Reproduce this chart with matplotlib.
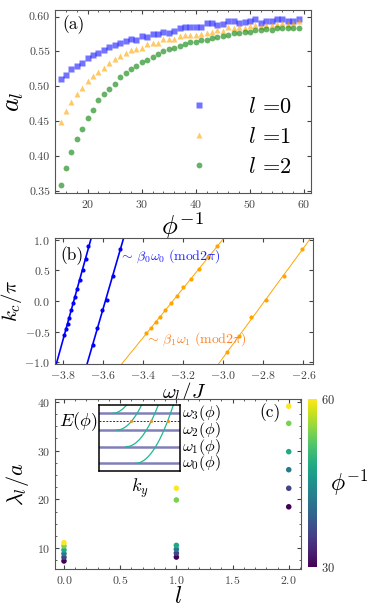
import numpy as np
import matplotlib
matplotlib.use("Agg")
import matplotlib.pyplot as plt
from matplotlib.ticker import MultipleLocator

plt.rcParams['font.family'] = 'serif'
plt.rcParams['font.serif'] = ['cmr10', 'DejaVu Serif']
plt.rcParams['mathtext.fontset'] = 'cm'
plt.rcParams['axes.formatter.use_mathtext'] = True
plt.rcParams['axes.unicode_minus'] = True

# ---- panel (a): a_l vs phi^-1
phi_inv = list(range(15, 60))
a_l0 = [0.510, 0.516, 0.524, 0.529, 0.534, 0.541, 0.545, 0.548, 0.552, 0.556,
        0.559, 0.562, 0.565, 0.568, 0.566, 0.572, 0.570, 0.575, 0.575, 0.578,
        0.577, 0.579, 0.583, 0.585, 0.585, 0.585, 0.585, 0.590, 0.590, 0.588,
        0.589, 0.593, 0.594, 0.591, 0.592, 0.594, 0.596, 0.591, 0.593, 0.594,
        0.597, 0.597, 0.594, 0.594, 0.597]
a_l1 = [0.448, 0.465, 0.478, 0.489, 0.498, 0.508, 0.514, 0.520, 0.526, 0.534,
        0.539, 0.544, 0.547, 0.552, 0.554, 0.555, 0.561, 0.562, 0.562, 0.568,
        0.568, 0.568, 0.572, 0.573, 0.573, 0.574, 0.575, 0.577, 0.578, 0.581,
        0.579, 0.585, 0.583, 0.585, 0.584, 0.586, 0.588, 0.586, 0.588, 0.588,
        0.589, 0.590, 0.589, 0.590, 0.593]
a_l2 = [0.359, 0.382, 0.405, 0.424, 0.439, 0.454, 0.466, 0.480, 0.489, 0.496,
        0.503, 0.513, 0.519, 0.525, 0.529, 0.535, 0.538, 0.542, 0.546, 0.550,
        0.554, 0.555, 0.558, 0.561, 0.563, 0.564, 0.566, 0.567, 0.569, 0.571,
        0.572, 0.574, 0.576, 0.576, 0.578, 0.578, 0.580, 0.581, 0.582, 0.581,
        0.583, 0.584, 0.584, 0.584, 0.584]

# ---- panel (b): k_c/pi vs omega_l/J (two branches each for l=0 and l=1)
w0a = [-3.671, -3.684, -3.699, -3.714, -3.726, -3.738, -3.749, -3.759, -3.768, -3.774, -3.783, -3.791]
k0a = [0.90, 0.69, 0.51, 0.34, 0.19, 0.06, -0.04, -0.15, -0.27, -0.37, -0.46, -0.56]
w0b = [-3.514, -3.548, -3.579, -3.603, -3.629, -3.649]
k0b = [0.85, 0.40, 0.02, -0.14, -0.44, -0.72]
w1a = [-3.383, -3.359, -3.336, -3.314, -3.288, -3.259, -3.229, -3.198, -3.159, -3.119, -3.076, -3.029]
k1a = [-0.52, -0.44, -0.35, -0.26, -0.15, -0.04, 0.08, 0.22, 0.36, 0.52, 0.71, 0.90]
w1b = [-2.979, -2.921, -2.859, -2.784, -2.698, -2.606]
k1b = [-0.84, -0.57, -0.26, 0.02, 0.40, 0.85]

# ---- panel (c): lambda_l/a vs l, coloured by phi^-1
c_phi = [30, 36, 42, 48, 54, 60]
lam_l0 = [7.4, 8.16, 8.9, 9.65, 10.47, 11.15]
lam_l1 = [8.2, 9.0, 9.8, 10.6, 19.9, 22.3]
lam_l2 = [18.5, 22.3, 26.1, 29.8, 35.6, 39.1]

# inset sketch: levels, crossing energy, band-curve vertices
inset_levels = [0.116, 0.369, 0.621, 0.874]
inset_E = 0.753
inset_vertex = [0.444, 0.331, 0.215, 0.16]
inset_curv = 4.0

fig = plt.figure(figsize=(3.69, 6.13), dpi=100)

def style(ax):
    ax.tick_params(direction='in', top=True, right=True, labelsize=8.5,
                   colors='#444444', length=3)
    ax.tick_params(which='minor', direction='in', top=True, right=True, length=1.5,
                   colors='#444444')
    for s in ax.spines.values():
        s.set_color('#555555')

# (a)
ax1 = fig.add_axes([0.149, 0.685, 0.694, 0.299])
ax1.plot(phi_inv, a_l0, 's', color='blue', alpha=0.55, ms=4.2, mec='none', label='$l$ =0')
ax1.plot(phi_inv, a_l1, '^', color='orange', alpha=0.6, ms=4.5, mec='none', label='$l$ =1')
ax1.plot(phi_inv, a_l2, 'o', color='green', alpha=0.6, ms=4.2, mec='none', label='$l$ =2')
ax1.set_xlim(13.96, 61.3)
ax1.set_ylim(0.3467, 0.6096)
ax1.set_xticks([20, 30, 40, 50, 60])
ax1.set_yticks([0.35, 0.40, 0.45, 0.50, 0.55, 0.60])
ax1.set_yticklabels(['0.35', '0.40', '0.45', '0.50', '0.55', '0.60'])
ax1.xaxis.set_minor_locator(MultipleLocator(2))
style(ax1)
ax1.set_xlabel(r'$\phi^{-1}$', fontsize=19, labelpad=0)
ax1.set_ylabel(r'$a_l$', fontsize=19, labelpad=2)
ax1.text(0.03, 0.92, '(a)', transform=ax1.transAxes, fontsize=12.5, va='center')
leg = ax1.legend(loc='lower right', frameon=False, fontsize=16, handletextpad=1.2,
                 markerscale=1.0, labelspacing=0.45, bbox_to_anchor=(1.0, -0.02))

# (b)
ax2 = fig.add_axes([0.149, 0.406, 0.699, 0.206])
kk = np.array([-1.1, 1.1])
for w, k, col, lw in [(w0a, k0a, 'blue', 1.2), (w0b, k0b, 'blue', 1.2),
                      (w1a, k1a, 'orange', 0.7), (w1b, k1b, 'orange', 0.7)]:
    p = np.polyfit(k, w, 1)
    ax2.plot(np.polyval(p, kk), kk, '-', color=col, lw=lw)
    ax2.plot(w, k, 'o', color=col, ms=3, mec='none')
ax2.set_xlim(-3.8375, -2.5525)
ax2.set_ylim(-1.03, 1.03)
ax2.set_xticks([-3.8, -3.6, -3.4, -3.2, -3.0, -2.8, -2.6])
ax2.set_yticks([-1.0, -0.5, 0.0, 0.5, 1.0])
style(ax2)
ax2.set_xlabel(r'$\omega_l/J$', fontsize=15, labelpad=-1)
ax2.set_ylabel(r'$k_c/\pi$', fontsize=15, labelpad=0)
ax2.text(0.02, 0.86, '(b)', transform=ax2.transAxes, fontsize=12.5, va='center')
ax2.text(-3.52, 0.74, r'$\sim\,\beta_0\omega_0\;(\mathrm{mod} 2\pi)$', color='#2020ff',
         fontsize=10, va='center')
ax2.text(-3.39, -0.62, r'$\sim\,\beta_1\omega_1\;(\mathrm{mod} 2\pi)$', color='#ff8020',
         fontsize=10, va='center')

# (c)
ax3 = fig.add_axes([0.149, 0.0718, 0.667, 0.277])
for lx, lam in [(0, lam_l0), (1, lam_l1), (2, lam_l2)]:
    sc = ax3.scatter([lx] * len(lam), lam, c=c_phi, cmap='viridis', vmin=30, vmax=60,
                     s=16, edgecolors='none')
ax3.set_xlim(-0.08, 2.11)
ax3.set_ylim(5.76, 40.55)
ax3.set_xticks([0.0, 0.5, 1.0, 1.5, 2.0])
ax3.set_yticks([10, 20, 30, 40])
ax3.xaxis.set_minor_locator(MultipleLocator(0.1))
ax3.yaxis.set_minor_locator(MultipleLocator(2.5))
style(ax3)
ax3.set_xlabel(r'$l$', fontsize=17, labelpad=0)
ax3.set_ylabel(r'$\lambda_l/a$', fontsize=16, labelpad=4)
ax3.text(0.83, 0.92, '(c)', transform=ax3.transAxes, fontsize=12.5, va='center')

cax = fig.add_axes([0.835, 0.075, 0.023, 0.274])
cb = fig.colorbar(sc, cax=cax, ticks=[30, 60])
cb.outline.set_visible(False)
cb.ax.tick_params(length=0, labelsize=9, colors='#333333')
cb.set_label(r'$\phi^{-1}$', fontsize=17, rotation=0, labelpad=10, va='center')

# inset sketch
ins = fig.add_axes([0.269, 0.2316, 0.2195, 0.1077])
for lev in inset_levels:
    ins.axhline(lev, color='#8080b8', lw=1.8)
ins.axhline(inset_E, color='#333333', lw=0.7, ls=(0, (2, 1.5)))
for lev, xv in zip(inset_levels, inset_vertex):
    xs = np.linspace(xv, xv + np.sqrt((1 - lev) / inset_curv), 60)
    ins.plot(xs, lev + inset_curv * (xs - xv) ** 2, color='#1fb893', lw=0.9)
    if lev < inset_E:
        ins.plot(xv + np.sqrt((inset_E - lev) / inset_curv), inset_E, 'o',
                 color='#ff8c1a', ms=2.2, mec='none', zorder=5)
ins.set_xlim(0, 1)
ins.set_ylim(0, 1)
ins.set_xticks([])
ins.set_yticks([])
for s in ins.spines.values():
    s.set_linewidth(1.1)
for i, lev in enumerate(inset_levels):
    ins.text(1.02, lev, r'$\omega_%d(\phi)$' % i, transform=ins.transAxes,
             fontsize=11.5, va='center', ha='left')
ins.text(-0.03, inset_E, r'$E(\phi)$', transform=ins.transAxes, fontsize=13,
         va='center', ha='right')
ins.text(0.5, -0.08, r'$k_y$', transform=ins.transAxes, fontsize=13,
         va='top', ha='center')

fig.savefig('out.png', dpi=100)
